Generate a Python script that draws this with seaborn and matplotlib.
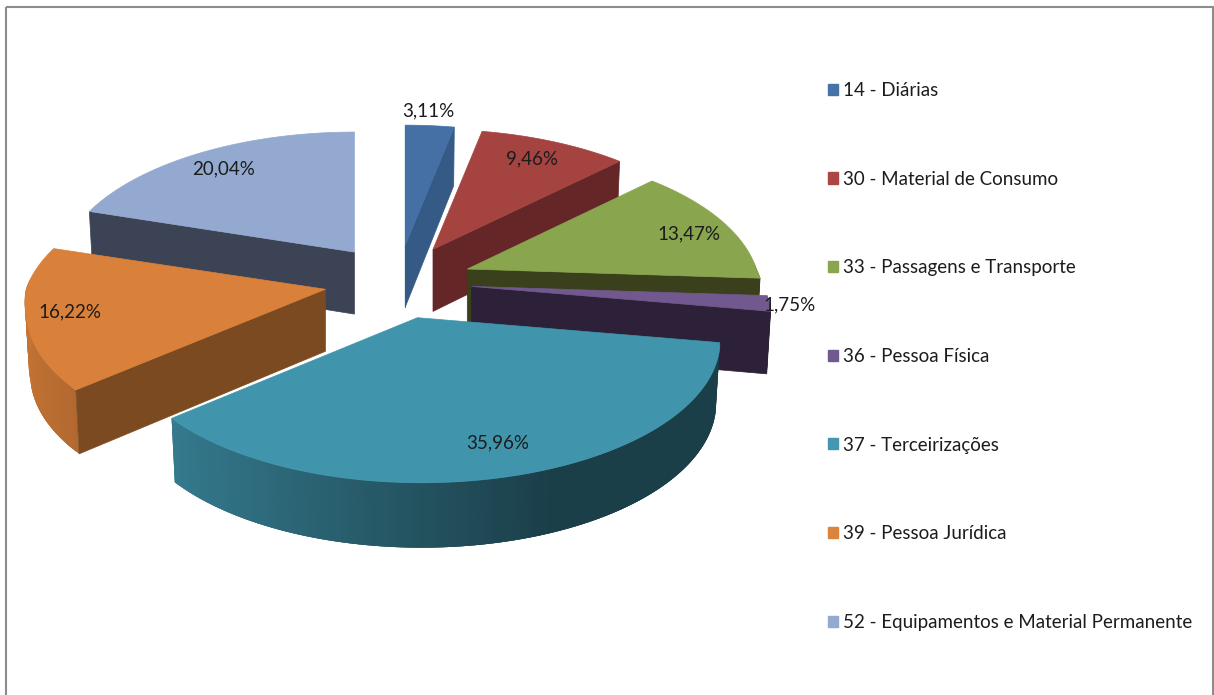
from matplotlib import pyplot as plt
from matplotlib.patches import Patch, Polygon, Rectangle
import numpy as np
import seaborn as sns


categories = [
    "14 - Diárias",
    "30 - Material de Consumo",
    "33 - Passagens e Transporte",
    "36 - Pessoa Física",
    "37 - Terceirizações",
    "39 - Pessoa Jurídica",
    "52 - Equipamentos e Material Permanente",
]
shares = [3.11, 9.46, 13.47, 1.75, 35.96, 16.22, 20.04]

top_colors = ["#4470A5", "#A54341", "#89A54E", "#71588F", "#4095AD", "#D9803A", "#93A9CF"]
legend_colors = ["#4572A7", "#AA4643", "#89A54E", "#71588F", "#4198AF", "#DB843D", "#93A9CF"]
wall_colors = ["#355A85", "#642626", "#3A401B", "#2C2138", "#1B3D48", "#7B4A20", "#3C4354"]

# label centres, canvas pixels
label_pos = [(428, 111), (532, 159), (689, 234), (790, 305), (498, 443), (70, 312), (224, 169)]

# fake 3d pie geometry, canvas pixels
CX, CY = 398, 282
EX, EY = 74, 37
RX, RY = 292, 139
PERSP = 0.158
DEPTH = 62
SHRINK = 0.987
FONT = "Lato"
# nearer slices come out a bit wider in the original
widen = [1, 1, 0.99, 1, 1.01, 1.025, 1]

sns.set_theme(style="white")
plt.rcParams['font.family'] = [FONT, 'DejaVu Sans']
palette = sns.color_palette(top_colors)
legend_palette = sns.color_palette(legend_colors)

fig, ax = plt.subplots(figsize=(12.14, 6.95), dpi=100)
ax.set_position([0, 0, 1, 1])
ax.set_xlim(0, 1214)
ax.set_ylim(695, 0)
ax.axis("off")

ax.add_patch(Rectangle((5.5, 6.5), 1207, 720, fill=False, ec="#8c8c8c", lw=1.5))


def rim(angle, w=1):
    # offset of a point on the pie edge from the slice tip
    x, y = np.sin(angle), np.cos(angle)
    s = 1 / (1 + PERSP * y)
    return w * RX * x * s + 4 * np.clip(-5 * y, 0, 1), -RY * y * s


def below(off, angle):
    # same point on the bottom face of the pie
    h = DEPTH - 5 * np.cos(angle)
    return off[0] * SHRINK, off[1] * SHRINK + h


def shaded(color, angle):
    f = 0.42 + 0.348 * (-np.sin(angle) + 0.39)
    f = np.clip(f, 0.42, 1)
    return tuple(c * f for c in color)


edges = np.radians(np.cumsum([0] + shares) / sum(shares) * 360)
order = sorted(range(len(shares)), key=lambda i: -np.cos((edges[i] + edges[i + 1]) / 2))

for i in order:
    a0, a1 = edges[i], edges[i + 1]
    w = widen[i]
    mid = (a0 + a1) / 2
    tx = CX + EX * np.sin(mid)
    ty = CY - EY * np.cos(mid)
    arc = np.linspace(a0, a1, max(int(np.degrees(a1 - a0)), 2) + 1)
    outer = [rim(a, w) for a in arc]
    mid_off = rim(mid, w)

    # outer wall, each facet runs under the next one so no seams show
    for k in range(len(arc) - 1):
        a = arc[k]
        b = arc[min(k + 3, len(arc) - 1)]
        if np.cos((a + arc[k + 1]) / 2) > 0.05:
            continue
        strip = np.linspace(a, b, 4)
        front = [rim(v, w) for v in strip]
        back = [below(rim(v, w), v) for v in strip[::-1]]
        col = shaded(palette[i], a)
        ax.add_patch(Polygon([(tx + u, ty + v) for u, v in front + back], fc=col, ec="none", lw=0))

    # cut walls, only the ones that face the viewer
    for a in (a0, a1):
        p = rim(a, w)
        cross = p[0] * mid_off[1] - p[1] * mid_off[0]
        faces = cross < 0 if p[0] > 0 else cross > 0
        if not faces:
            continue
        r = below(p, a)
        pts = [(0, 0), p, r, (0, DEPTH)]
        ax.add_patch(Polygon([(tx + u, ty + v) for u, v in pts], fc=wall_colors[i], ec=wall_colors[i], lw=0.5))

    # top face
    top = [(tx, ty)] + [(tx + u, ty + v) for u, v in outer]
    ax.add_patch(Polygon(top, fc=palette[i], ec=palette[i], lw=0.5))

for share, (lx, ly) in zip(shares, label_pos):
    ax.text(lx, ly, f"{share:.2f}".replace(".", ",") + "%", ha="center", va="center",
            fontsize=13.5, color="#1c1c1c")

handles = [Patch(fc=c, ec=c, label=n) for c, n in zip(legend_palette, categories)]
ax.legend(handles=handles, loc="upper left", bbox_to_anchor=(828, 82), bbox_transform=ax.transData,
          frameon=False, fontsize=13.5, labelspacing=3.82, handlelength=0.53, handleheight=0.53,
          handletextpad=0.28, borderpad=0, borderaxespad=0, labelcolor="#1c1c1c")

plt.savefig("out.png", dpi=100)
plt.close()
